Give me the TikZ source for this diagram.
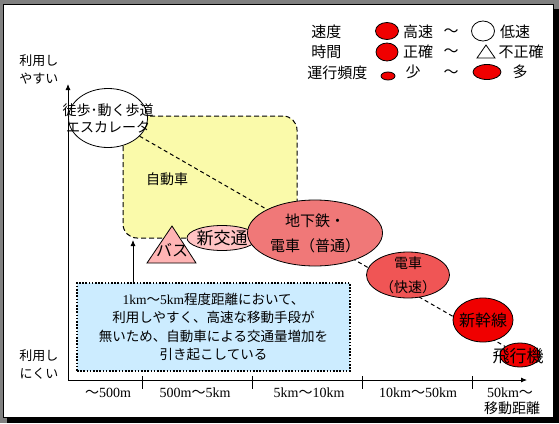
\documentclass[tikz,border=0pt]{standalone}
\usepackage{fontspec}
\setmainfont{Noto Sans CJK JP}
\newfontfamily\lat{Liberation Serif}
\usetikzlibrary{shapes,arrows.meta}
\definecolor{carzone}{RGB}{250,250,170}
\definecolor{notebg}{RGB}{204,236,255}
\definecolor{buspink}{RGB}{255,180,180}
\definecolor{newpink}{RGB}{255,195,195}
\definecolor{subsalmon}{RGB}{240,120,120}
\definecolor{rapidsalmon}{RGB}{240,85,85}
\definecolor{fastred}{RGB}{240,0,0}
\newcommand{\fsz}[2]{\fontsize{#1}{#2}\selectfont}
\pgfdeclarelayer{back}
\pgfsetlayers{back,main}

\begin{document}
\begin{tikzpicture}[x=1pt,y=-1pt,line width=0.8pt,
  oval/.style={ellipse,draw,inner sep=0pt},
  lbl/.style={inner sep=0pt,align=center},
  leg/.style={lbl,font=\fsz{15}{15}},
  notebox/.style={draw,fill=notebg,line width=1.6pt,dash pattern=on 1.6pt off 1.6pt,
    minimum width=273,minimum height=88,inner sep=0pt,align=center,font=\fsz{13.5}{18.5}},
  >={Latex[length=6pt,width=5pt]}]
\useasboundingbox (0,0) rectangle (559,423);

% legend
\node[leg,anchor=west] (speed) at (311,32) {速度};
\node[oval,fill=fastred,minimum width=23,minimum height=17] (fast) at (387,31) {};
\node[leg] (fast-t) at (418,32) {高速};
\node[leg] (sp-tilde) at (451,33) {～};
\node[oval,fill=white,minimum width=23,minimum height=20] (slow) at (483,31) {};
\node[leg] (slow-t) at (515,32) {低速};
\node[leg,anchor=west] (time) at (311,52) {時間};
\node[oval,fill=fastred,minimum width=22,minimum height=18] (exact) at (387,52) {};
\node[leg] (exact-t) at (418,52) {正確};
\node[leg] (tm-tilde) at (451,53) {～};
\draw (477,58) -- (486,45) -- (495,58) -- cycle;
\node[leg] (inexact-t) at (521,52) {不正確};
\node[leg,anchor=west] (freq) at (307,73) {運行頻度};
\node[oval,fill=fastred,minimum width=14,minimum height=8] (few) at (388,76) {};
\node[leg] (few-t) at (413,72) {少};
\node[leg] (fq-tilde) at (451,74) {～};
\node[oval,fill=fastred,minimum width=28,minimum height=15] (many) at (487,72) {};
\node[leg] (many-t) at (520,72) {多};

% axes
\coordinate (O) at (68,380);
\coordinate (ytop) at (68,84);
\coordinate (xend) at (527,380);
\draw[->] (O) -- (ytop);
\draw[->] (O) -- (xend);
\foreach \t in {142,252,362,472} \draw (\t,376) -- (\t,389);
\node[lbl,font=\fsz{13}{18}] (easy) at (39,69) {利用し\\やすい};
\node[lbl,font=\fsz{13}{18}] (hard) at (39,364) {利用し\\にくい};
\node[lbl,font=\fsz{14}{14}] (d1) at (108,393) {～{\lat 500m}};
\node[lbl,font=\fsz{14}{14}] (d2) at (195,393) {{\lat 500m}～{\lat 5km}};
\node[lbl,font=\fsz{14}{14}] (d3) at (309,393) {{\lat 5km}～{\lat 10km}};
\node[lbl,font=\fsz{14}{14}] (d4) at (418,393) {{\lat 10km}～{\lat 50km}};
\node[lbl,font=\fsz{14}{14}] (d5) at (510,393) {{\lat 50km}～};
\node[lbl,font=\fsz{14}{14}] (dist) at (512,408) {移動距離};

% modes
\node[oval,fill=white,minimum width=79,minimum height=59] (walk) at (108,118) {};
\node[lbl,font=\fsz{14}{17}] (walk-t) at (walk) {徒歩･動く歩道\\エスカレータ};
\node[lbl,font=\fsz{14}{14}] (car-t) at (167,179) {自動車};
\filldraw[fill=buspink] (147,263) -- (172,226) -- (196,263) -- cycle;
\node[lbl,font=\fsz{16}{16}] (bus) at (172,250) {バス};
\node[oval,fill=newpink,minimum width=70,minimum height=25] (newtr) at (222,238) {};
\node[lbl,font=\fsz{17}{17}] (newtr-t) at (newtr) {新交通};
\node[oval,fill=subsalmon,minimum width=135,minimum height=66] (subway) at (315,233) {};
\node[lbl,font=\fsz{15}{25}] (subway-t) at (subway) {地下鉄・\\電車（普通）};
\node[oval,fill=rapidsalmon,minimum width=83,minimum height=46] (rapid) at (408,275) {};
\node[lbl,font=\fsz{14}{24}] (rapid-t) at (rapid) {電車\\（快速）};
\node[oval,fill=fastred,minimum width=60,minimum height=44] (shink) at (483,320) {};
\node[lbl,font=\fsz{16}{16}] (shink-t) at (shink) {新幹線};
\node[oval,fill=fastred,minimum width=40,minimum height=24] (plane) at (520,355) {};
\node[lbl,font=\fsz{17}{17}] (plane-t) at (518,356) {飛行機};

% note
\node[notebox] (note) at (213.5,327) {{\lat 1km}～{\lat 5km}程度距離において、\\利用しやすく、高速な移動手段が\\無いため、自動車による交通量増加を\\引き起こしている};
\coordinate (tip) at (133,240);
\draw[->] (note.north -| tip) -- (tip);

\begin{pgfonlayer}{back}
\fill[gray] (0,0) rectangle (559,423);
\fill[black] (7,9) rectangle (559,423);
\filldraw[fill=white,draw=black] (3,4) rectangle (553,417);
\node[draw,line width=1pt,dash pattern=on 5pt off 3pt,fill=carzone,rounded corners=14,
  minimum width=174,minimum height=122,inner sep=0pt] (car) at (210,177) {};
\draw[line width=1pt,dash pattern=on 4pt off 3pt] (walk) -- (plane);
\end{pgfonlayer}
\end{tikzpicture}
\end{document}
